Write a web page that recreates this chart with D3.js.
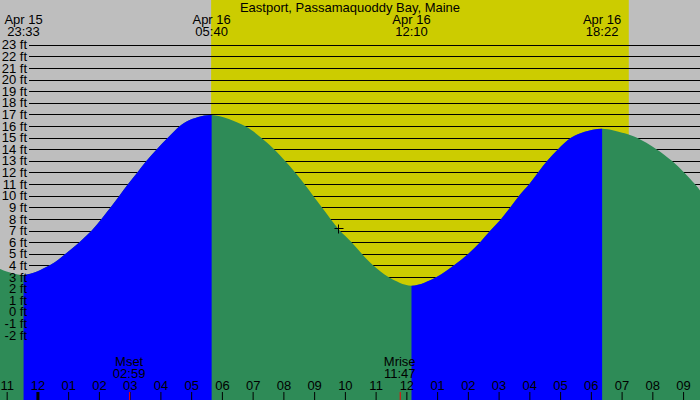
<!DOCTYPE html>
<html>
<head>
<meta charset="utf-8">
<script src="https://cdn.jsdelivr.net/npm/d3@7"></script>
<style>
  html, body { margin: 0; padding: 0; background: #fff; }
  svg { display: block; }
  text { font-family: "Liberation Sans", Arial, Helvetica, sans-serif; font-size: 13px; fill: #000; }
</style>
</head>
<body>
<svg id="chart" width="700" height="400"></svg>
<script>
// ---------- data ----------
const title = "Eastport, Passamaquoddy Bay, Maine";
const domainStart = "2024-04-15 22:47";
const domainEnd = "2024-04-16 21:33";

// water level readings (time, feet) taken off the reference curve
const tideTimes = [
  "2024-04-15 22:47","2024-04-15 23:33","2024-04-16 00:24","2024-04-16 00:55","2024-04-16 01:22",
  "2024-04-16 01:46","2024-04-16 02:05","2024-04-16 02:23","2024-04-16 02:40","2024-04-16 02:57",
  "2024-04-16 03:15","2024-04-16 03:33","2024-04-16 03:53","2024-04-16 04:15","2024-04-16 04:38",
  "2024-04-16 04:54","2024-04-16 05:40","2024-04-16 06:45","2024-04-16 07:16","2024-04-16 07:42",
  "2024-04-16 08:03","2024-04-16 08:23","2024-04-16 08:41","2024-04-16 08:58","2024-04-16 09:15",
  "2024-04-16 09:32","2024-04-16 09:50","2024-04-16 10:13","2024-04-16 10:33","2024-04-16 10:55",
  "2024-04-16 11:25","2024-04-16 12:10","2024-04-16 12:59","2024-04-16 13:33","2024-04-16 14:01",
  "2024-04-16 14:24","2024-04-16 14:44","2024-04-16 15:05","2024-04-16 15:23","2024-04-16 15:40",
  "2024-04-16 16:00","2024-04-16 16:17","2024-04-16 16:35","2024-04-16 16:56","2024-04-16 17:22",
  "2024-04-16 17:48","2024-04-16 18:22","2024-04-16 19:06","2024-04-16 19:29","2024-04-16 20:08",
  "2024-04-16 20:38","2024-04-16 21:02","2024-04-16 21:23","2024-04-16 21:33"];
const tideHeights = [
  3.69, 3.17, 4.0, 5.0, 6.0,
  7.0, 8.0, 9.0, 10.0, 11.0,
  12.0, 13.0, 14.0, 15.0, 16.0,
  16.46, 16.95, 16.0, 15.0, 14.0,
  13.0, 12.0, 11.0, 10.0, 9.0,
  8.0, 7.0, 6.0, 5.0, 4.0,
  3.0, 2.25, 3.0, 4.0, 5.0,
  6.0, 7.0, 8.0, 9.0, 10.0,
  11.0, 12.0, 13.0, 14.0, 15.0,
  15.51, 15.77, 15.37, 15.0, 14.0,
  13.0, 12.0, 11.0, 10.45];

// tide extremes (labelled at top); rising = flood intervals
const extremeTimes = ["2024-04-15 23:33","2024-04-16 05:40","2024-04-16 12:10","2024-04-16 18:22"];
const floodStarts = ["2024-04-15 23:33","2024-04-16 12:10"];
const floodEnds = ["2024-04-16 05:40","2024-04-16 18:22"];

const sunrise = "2024-04-16 05:39";
const sunset = "2024-04-16 19:14";

const moonEvents = ["Mset","Mrise"];
const moonTimes = ["2024-04-16 02:59","2024-04-16 11:47"];

const markerTime = "2024-04-16 09:47";
const markerHeight = 7.19;

const yTicks = d3.range(-2, 24, 1); // -2 ft .. 23 ft

// ---------- setup ----------
const parse = d3.timeParse("%Y-%m-%d %H:%M");
const W = 700, H = 400;
const svg = d3.select("#chart");

const x = d3.scaleTime().domain([parse(domainStart), parse(domainEnd)]).range([0, W]);
const y = d3.scaleLinear().domain([-2, 23]).range([335.05, 44.7]);

const data = tideTimes.map((t, i) => ({ t: parse(t), v: tideHeights[i] }));

// sky
svg.append("rect").attr("x", 0).attr("y", 0).attr("width", W).attr("height", H).attr("fill", "#bebebe");
svg.append("rect")
  .attr("x", x(parse(sunrise))).attr("y", 0)
  .attr("width", x(parse(sunset)) - x(parse(sunrise))).attr("height", H)
  .attr("fill", "#cccc00");

// grid lines
svg.append("g").selectAll("line").data(yTicks).join("line")
  .attr("x1", 29).attr("x2", W)
  .attr("y1", d => Math.round(y(d)) + 0.5).attr("y2", d => Math.round(y(d)) + 0.5)
  .attr("stroke", "#000").attr("stroke-width", 1);

// water
const area = d3.area().x(d => x(d.t)).y0(H).y1(d => y(d.v)).curve(d3.curveCatmullRom.alpha(0.5));
svg.append("path").datum(data).attr("d", area).attr("fill", "#2e8b57");

const defs = svg.append("defs");
const clip = defs.append("clipPath").attr("id", "flood");
clip.selectAll("rect").data(floodStarts).join("rect")
  .attr("x", (d, i) => x(parse(d)))
  .attr("width", (d, i) => x(parse(floodEnds[i])) - x(parse(d)))
  .attr("y", 0).attr("height", H);
svg.append("path").datum(data).attr("d", area).attr("fill", "#0000ff").attr("clip-path", "url(#flood)");

// y labels
svg.append("g").selectAll("text").data(yTicks).join("text")
  .attr("x", 27).attr("y", d => y(d) + 4.6)
  .attr("text-anchor", "end")
  .text(d => d + " ft");

// title
svg.append("text").attr("x", 350).attr("y", 12).attr("text-anchor", "middle").text(title);

// extreme labels
const fDate = d3.timeFormat("%b %d"), fTime = d3.timeFormat("%H:%M");
const ext = svg.append("g").selectAll("g").data(extremeTimes).join("g");
ext.append("text").attr("x", d => x(parse(d))).attr("y", 24).attr("text-anchor", "middle").text(d => fDate(parse(d)));
ext.append("text").attr("x", d => x(parse(d))).attr("y", 36).attr("text-anchor", "middle").text(d => fTime(parse(d)));

// hour axis
const axis = d3.axisTop(x).ticks(d3.timeHour.every(1)).tickFormat(d3.timeFormat("%I")).tickSize(8).tickPadding(2);
const ag = svg.append("g").attr("transform", `translate(0,${H})`).call(axis);
ag.select(".domain").remove();
ag.selectAll("text").style("font-family", '"Liberation Sans", Arial, sans-serif').style("font-size", "13px").attr("fill", "#000");
ag.selectAll(".tick line").attr("stroke", "#000")
  .attr("stroke-width", d => d.getHours() === 0 ? 3 : 1);

// moon events
const mg = svg.append("g").selectAll("g").data(moonTimes).join("g");
mg.append("line").attr("x1", d => x(parse(d)) + 0.5).attr("x2", d => x(parse(d)) + 0.5)
  .attr("y1", 392).attr("y2", H).attr("stroke", "#ff0000");
mg.append("text").attr("x", d => x(parse(d))).attr("y", 366).attr("text-anchor", "middle").text((d, i) => moonEvents[i]);
mg.append("text").attr("x", d => x(parse(d))).attr("y", 378).attr("text-anchor", "middle").text(d => fTime(parse(d)));

// marker
const mx = Math.round(x(parse(markerTime))) + 0.5, my = Math.round(y(markerHeight)) + 0.5;
svg.append("line").attr("x1", mx - 4).attr("x2", mx + 5).attr("y1", my).attr("y2", my).attr("stroke", "#000");
svg.append("line").attr("x1", mx).attr("x2", mx).attr("y1", my - 4).attr("y2", my + 5).attr("stroke", "#000");
</script>
</body>
</html>
